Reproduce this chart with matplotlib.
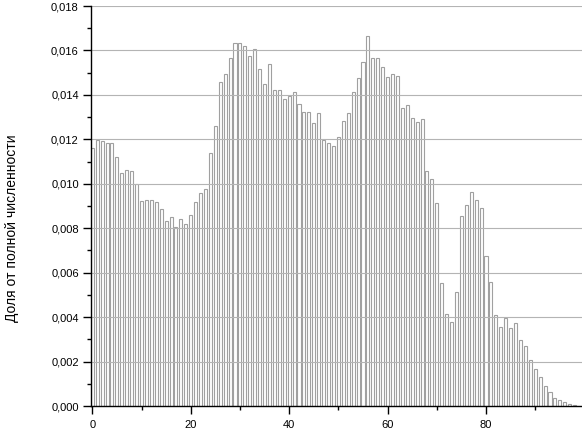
import numpy as np
import matplotlib
matplotlib.use("Agg")
import matplotlib.pyplot as plt
from matplotlib.ticker import MultipleLocator, FuncFormatter

# Age classes (0..98) and share of total population
ages = list(range(99))
shares = [
    0.01160, 0.01197, 0.01193, 0.01182, 0.01182, 0.01122, 0.01050, 0.01061, 0.01056, 0.00999,
    0.00922, 0.00927, 0.00927, 0.00919, 0.00887, 0.00833, 0.00849, 0.00804, 0.00840, 0.00818,
    0.00861, 0.00919, 0.00957, 0.00977, 0.01140, 0.01260, 0.01457, 0.01494, 0.01564, 0.01634,
    0.01634, 0.01620, 0.01575, 0.01607, 0.01515, 0.01448, 0.01541, 0.01421, 0.01421, 0.01382,
    0.01396, 0.01413, 0.01358, 0.01321, 0.01325, 0.01272, 0.01320, 0.01197, 0.01182, 0.01170,
    0.01212, 0.01284, 0.01317, 0.01412, 0.01477, 0.01549, 0.01666, 0.01567, 0.01567, 0.01526,
    0.01481, 0.01494, 0.01486, 0.01341, 0.01355, 0.01296, 0.01279, 0.01293, 0.01058, 0.01022,
    0.00912, 0.00552, 0.00413, 0.00376, 0.00515, 0.00856, 0.00903, 0.00962, 0.00929, 0.00891,
    0.00676, 0.00558, 0.00410, 0.00356, 0.00398, 0.00351, 0.00372, 0.00297, 0.00270, 0.00207,
    0.00166, 0.00131, 0.00092, 0.00061, 0.00037, 0.00025, 0.00017, 0.00008, 0.00005,
]
y_label = "Доля от полной численности"

plt.rcParams['font.family'] = ['Liberation Sans', 'DejaVu Sans']

fig = plt.figure(figsize=(5.82, 4.29), dpi=100)
ax = fig.add_axes([91.3 / 582, 1 - 406 / 429, 1 - 91.3 / 582, 400 / 429])

ax.bar(ages, shares, width=0.62, facecolor='white', edgecolor='#a0a0a0',
       linewidth=0.8, zorder=1)

# horizontal grid drawn over the bars
for gy in np.arange(0.002, 0.0181, 0.002):
    ax.axhline(gy, color='#b4b4b4', linewidth=0.8, zorder=2)

ax.set_xlim(-0.2, 99.5)
ax.set_ylim(0, 0.018)

ax.xaxis.set_major_locator(MultipleLocator(20))
ax.xaxis.set_minor_locator(MultipleLocator(10))
ax.yaxis.set_major_locator(MultipleLocator(0.002))
ax.yaxis.set_minor_locator(MultipleLocator(0.001))
ax.yaxis.set_major_formatter(FuncFormatter(lambda v, p: f"{v:.3f}".replace('.', ',')))

ax.tick_params(axis='both', which='major', length=6, width=1, labelsize=8, direction='out')
ax.tick_params(axis='both', which='minor', length=3, width=1, direction='out')
ax.tick_params(axis='y', which='major', pad=3)
ax.tick_params(axis='x', which='major', pad=4)

for side in ['top', 'right']:
    ax.spines[side].set_visible(False)
for side in ['left', 'bottom']:
    ax.spines[side].set_linewidth(1)
    ax.spines[side].set_zorder(3)

fig.text(12 / 582, 1 - 228 / 429, y_label, rotation=90, fontsize=10,
         ha='center', va='center')

fig.savefig("out.png", dpi=100)
